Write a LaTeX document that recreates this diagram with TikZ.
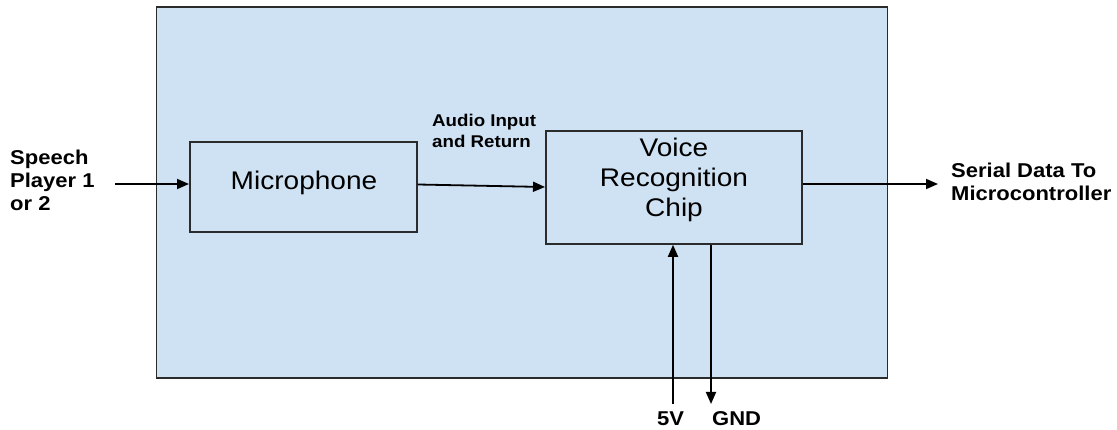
\documentclass[tikz,border=0pt]{standalone}
\usepackage{fontspec}
\setmainfont{Liberation Sans}
\usetikzlibrary{arrows.meta}
\definecolor{bluefill}{HTML}{CFE2F3}
\definecolor{edge}{HTML}{2B2B2B}
\newcommand{\stretchtxt}[1]{\scalebox{1.1}[1]{#1}}
\begin{document}
\begin{tikzpicture}[x=1pt,y=-1pt,
  blk/.style={draw=edge,line width=1.8pt,fill=bluefill,inner sep=0pt},
  conn/.style={draw=black,line width=1.8pt,-{Triangle[length=12pt,width=10pt]}},
  lbl/.style={font=\fontsize{20}{23}\selectfont\bfseries,align=left,inner sep=0pt,anchor=base west},
  slbl/.style={font=\fontsize{17}{21}\selectfont\bfseries,align=left,inner sep=0pt,anchor=base west},
  boxtxt/.style={font=\fontsize{25.5}{30}\selectfont,align=center,inner sep=0pt,anchor=base}]
\useasboundingbox (0,0) rectangle (1117,430);
\node[blk,minimum width=731pt,minimum height=371pt,anchor=north west] (outer) at (155.5,6) {};
\node[blk,minimum width=227pt,minimum height=90pt,anchor=north west] (mic) at (189,141) {};
\node[boxtxt] (mictxt) at (304,190) {\stretchtxt{Microphone}};
\node[blk,minimum width=256pt,minimum height=113pt,anchor=north west] (voice) at (545,130) {};
\node[boxtxt] (voicetxt) at (674,217) {\stretchtxt{Voice}\\\stretchtxt{Recognition}\\\stretchtxt{Chip}};
\node[lbl] (speech) at (10,211) {\stretchtxt{Speech}\\\stretchtxt{Player 1}\\\stretchtxt{or 2}};
\coordinate (sin) at (115,184);
\draw[conn] (sin) -- (mic.west |- sin);
\node[slbl] (audio) at (432,148) {\stretchtxt{Audio Input}\\\stretchtxt{and Return}};
\draw[conn] (mic.east |- 0,184.5) -- (voice.west |- 0,187);
\coordinate (sout) at (938,184);
\draw[conn] (voice.east |- sout) -- (sout);
\node[lbl] (serial) at (951,201) {\stretchtxt{Serial Data To}\\\stretchtxt{Microcontroller}};
\coordinate (v5) at (673,404);
\coordinate (gnd) at (711,404);
\draw[conn] (v5) -- (v5 |- voice.south);
\draw[conn] (gnd |- voice.south) -- (gnd);
\node[lbl] (v5l) at (657,425) {\stretchtxt{5V}};
\node[lbl] (gndl) at (712,425) {\stretchtxt{GND}};
\end{tikzpicture}
\end{document}
